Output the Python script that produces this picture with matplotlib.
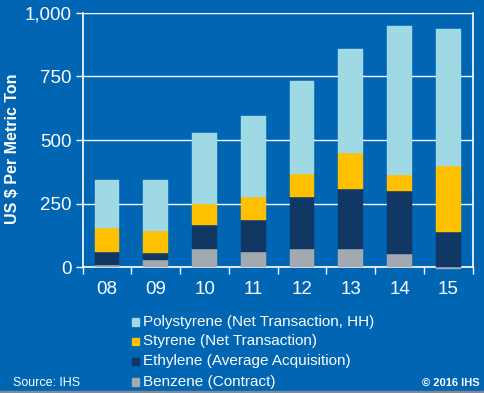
import numpy as np
import matplotlib
matplotlib.use("Agg")
from matplotlib import pyplot as plt
from matplotlib.patches import Rectangle

plt.rcParams['font.family'] = ['Liberation Sans', 'DejaVu Sans']

years = ['08', '09', '10', '11', '12', '13', '14', '15']
benzene = [8, 29, 71, 60, 71, 71, 52, -8]
ethylene = [51, 26, 97, 127, 205, 235, 248, 140]
styrene = [97, 88, 79, 89, 90, 142, 63, 257]
polystyrene = [186, 199, 279, 320, 364, 408, 583, 538]

labels = ['Polystyrene (Net Transaction, HH)', 'Styrene (Net Transaction)',
          'Ethylene (Average Acquisition)', 'Benzene (Contract)']
colors = ['#9fd9e4', '#ffc000', '#113865', '#a3a9b0']
bg = '#0065b3'

fig = plt.figure(figsize=(4.85, 3.93), dpi=100, facecolor=bg)
ax = fig.add_axes([0.1705, 0.3198, 0.8041, 0.6479])
ax.set_facecolor(bg)

x = np.arange(len(years))
w = 0.51
series = [benzene, ethylene, styrene, polystyrene]
cols = colors[::-1]
pos_bottom = np.zeros(len(years))
neg_bottom = np.zeros(len(years))
for vals, c in zip(series, cols):
    vals = np.array(vals, dtype=float)
    bottom = np.where(vals >= 0, pos_bottom, neg_bottom)
    ax.bar(x, vals, w, bottom=bottom, color=c, edgecolor=c, linewidth=0.3, zorder=3, clip_on=False)
    pos_bottom = pos_bottom + np.clip(vals, 0, None)
    neg_bottom = neg_bottom + np.clip(vals, None, 0)

ax.set_xlim(-0.5, len(years) - 0.5)
ax.set_ylim(0, 1000)
ax.set_yticks([0, 250, 500, 750, 1000])
ax.set_yticklabels(['0', '250', '500', '750', '1,000'])
ax.grid(axis='y', color='white', linewidth=1, zorder=1)
ax.set_xticks(x)
ax.set_xticklabels(years)
ax.set_xticks(np.arange(-0.5, len(years), 1), minor=True)
ax.tick_params(axis='x', which='major', length=0, pad=10, labelsize=13.5, labelcolor='white')
ax.tick_params(axis='x', which='minor', length=5, width=1, color='white', direction='out')
ax.tick_params(axis='y', length=5, width=1, color='white', pad=3, labelsize=13.5, labelcolor='white')
for s in ['left', 'bottom', 'right']:
    ax.spines[s].set_color('white')
    ax.spines[s].set_linewidth(1.2)
ax.spines['top'].set_visible(False)
ax.spines['bottom'].set_zorder(2)

fig.text(0.025, 0.622, 'US $ Per Metric Ton', rotation=90, ha='center', va='center',
         color='white', fontsize=11.5, fontweight='bold')

# legend drawn by hand to match the stacked list
rows_y = [321.7, 341.3, 361.3, 381.7]
for lab, c, yy in zip(labels, colors, rows_y):
    yf = 1 - yy / 393
    fig.patches.append(Rectangle((131.7 / 485, yf - 3.8 / 393), 7.5 / 485, 7.5 / 393,
                                 transform=fig.transFigure, color=c))
    fig.text(143 / 485, yf, lab, ha='left', va='center', color='white', fontsize=11)

fig.text(13 / 485, 1 - 383 / 393, 'Source: IHS', ha='left', va='center', color='white', fontsize=9)
fig.text(480 / 485, 1 - 383 / 393, '\u00a9 2016 IHS', ha='right', va='center', color='white',
         fontsize=8, fontweight='bold')
fig.patches.append(Rectangle((0, 0), 1, 2.5 / 393, transform=fig.transFigure, color='#7f8a96'))

fig.savefig('out.png', dpi=100, facecolor=bg)
